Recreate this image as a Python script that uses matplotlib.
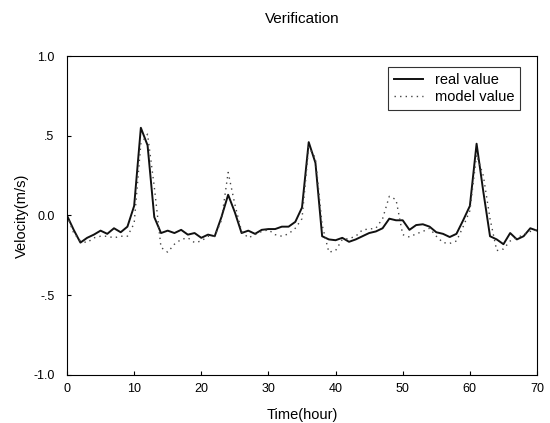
import numpy as np
import matplotlib
matplotlib.use("Agg")
import matplotlib.pyplot as plt

plt.rcParams['font.family'] = ['Liberation Sans', 'DejaVu Sans']

# hourly velocity readings (m/s)
hours = list(range(71))
real_value = [
    0.00, -0.09, -0.17, -0.14, -0.12, -0.095, -0.115, -0.08, -0.105, -0.07,
    0.06, 0.55, 0.44, -0.01, -0.11, -0.095, -0.11, -0.09, -0.12, -0.11,
    -0.14, -0.12, -0.13, -0.01, 0.13, 0.02, -0.11, -0.095, -0.115, -0.09,
    -0.085, -0.085, -0.07, -0.07, -0.04, 0.05, 0.46, 0.33, -0.13, -0.15,
    -0.155, -0.14, -0.165, -0.15, -0.13, -0.11, -0.10, -0.08, -0.02, -0.03,
    -0.03, -0.09, -0.06, -0.055, -0.07, -0.105, -0.115, -0.135, -0.115, -0.03,
    0.06, 0.45, 0.15, -0.13, -0.15, -0.18, -0.11, -0.15, -0.13, -0.08,
    -0.095,
]
model_value = [
    0.00, -0.11, -0.16, -0.17, -0.14, -0.13, -0.13, -0.14, -0.13, -0.13,
    -0.05, 0.45, 0.51, 0.18, -0.20, -0.23, -0.18, -0.15, -0.14, -0.17,
    -0.16, -0.13, -0.13, -0.03, 0.27, 0.07, -0.10, -0.14, -0.12, -0.10,
    -0.09, -0.12, -0.13, -0.115, -0.08, -0.02, 0.43, 0.36, -0.06, -0.23,
    -0.22, -0.15, -0.145, -0.13, -0.09, -0.085, -0.08, -0.02, 0.12, 0.10,
    -0.12, -0.135, -0.115, -0.10, -0.08, -0.13, -0.17, -0.175, -0.16, -0.07,
    0.03, 0.38, 0.25, -0.02, -0.22, -0.21, -0.16, -0.14, -0.12, -0.10,
    -0.09,
]
yticks = [1.0, 0.5, 0.0, -0.5, -1.0]
ytick_labels = ["1.0", ".5", "0.0", "-.5", "-1.0"]
xticks = [0, 10, 20, 30, 40, 50, 60, 70]

fig = plt.figure(figsize=(5.5, 4.23), dpi=100)
ax = fig.add_axes([0.1218, 0.1135, 0.8546, 0.7541])

ax.plot(hours, real_value, color="#111111", lw=1.4, label="real value")
ax.plot(hours, model_value, color="#444444", lw=1.0, linestyle=(0, (1, 3)), label="model value")

ax.set_xlim(0, 70)
ax.set_ylim(-1.0, 1.0)
ax.set_xticks(xticks)
ax.set_yticks(yticks)
ax.set_yticklabels(ytick_labels)
ax.tick_params(direction="in", length=3, width=0.8, labelsize=9)
ax.tick_params(axis="y", pad=9)
ax.tick_params(axis="x", pad=6)
for s in ax.spines.values():
    s.set_linewidth(0.8)

ax.set_title("Verification", fontsize=11, pad=24)
ax.set_xlabel("Time(hour)", fontsize=10.5, labelpad=9)
ax.set_ylabel("Velocity(m/s)", fontsize=10.5, labelpad=3)

leg = ax.legend(loc="upper right", bbox_to_anchor=(0.964, 0.966), borderaxespad=0,
                fontsize=10.5, frameon=True, fancybox=False, handlelength=2.0,
                handletextpad=0.8, borderpad=0.4, labelspacing=0.25)
leg.get_frame().set_edgecolor("black")
leg.get_frame().set_linewidth(0.8)

plt.savefig("out.png", dpi=100)
